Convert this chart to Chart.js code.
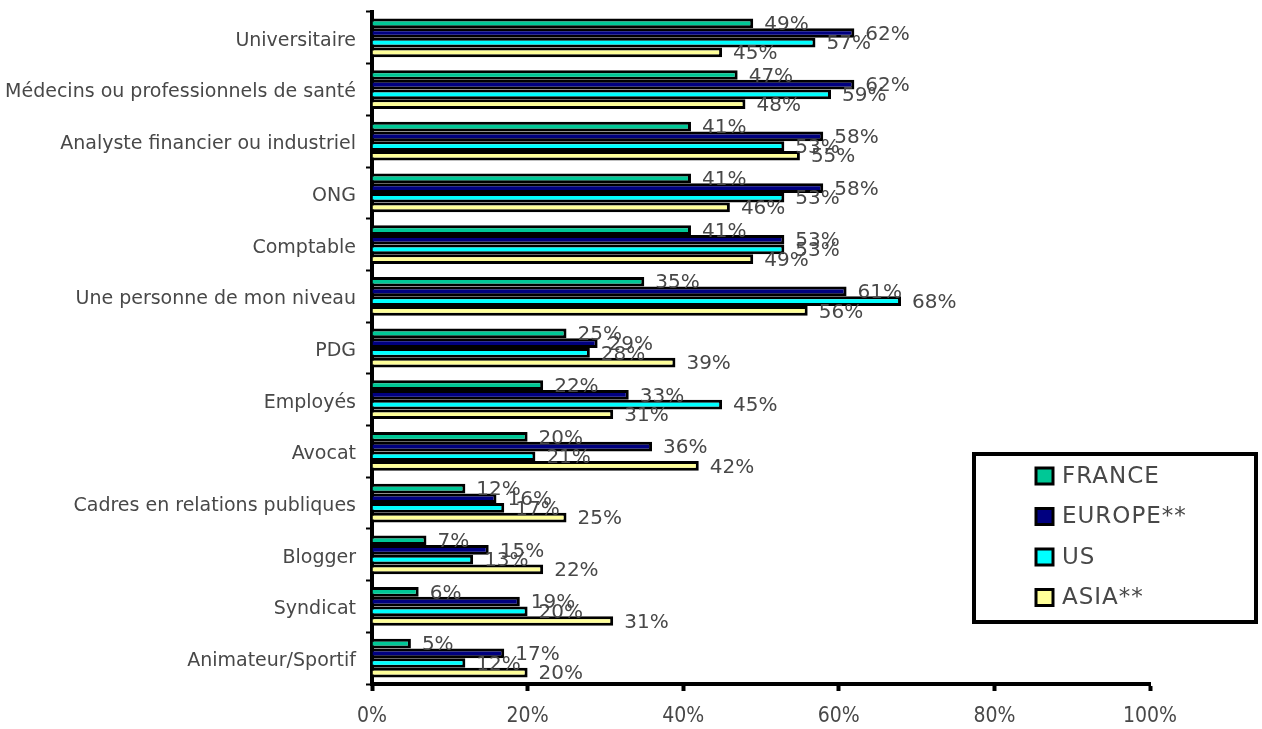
<!DOCTYPE html>
<html>
<head>
<meta charset="utf-8">
<script src="https://cdn.jsdelivr.net/npm/chart.js@4"></script>
<style>
  body { margin: 0; background: #fff; }
  #wrap { width: 1262px; height: 729px; position: relative; }
</style>
</head>
<body>
<div id="wrap"><canvas id="chart1"></canvas></div>
<script>
const categories = [
    'Universitaire',
    'Médecins ou professionnels de santé',
    'Analyste financier ou industriel',
    'ONG',
    'Comptable',
    'Une personne de mon niveau',
    'PDG',
    'Employés',
    'Avocat',
    'Cadres en relations publiques',
    'Blogger',
    'Syndicat',
    'Animateur/Sportif'
];
const franceValues = [49, 47, 41, 41, 41, 35, 25, 22, 20, 12, 7, 6, 5];
const europeValues = [62, 62, 58, 58, 53, 61, 29, 33, 36, 16, 15, 19, 17];
const usValues     = [57, 59, 53, 53, 53, 68, 28, 45, 21, 17, 13, 20, 12];
const asiaValues   = [45, 48, 55, 46, 49, 56, 39, 31, 42, 25, 22, 31, 20];
const seriesNames  = ['FRANCE', 'EUROPE**', 'US', 'ASIA**'];
const xTicks = [0, 20, 40, 60, 80, 100];

const colors = ['#00C896', '#000080', '#00FFFF', '#FFFF99'];
const textColor = '#484848';

// value labels to the right of every bar
const valueLabels = {
    id: 'valueLabels',
    afterDatasetsDraw(chart) {
        const ctx = chart.ctx;
        ctx.save();
        ctx.font = '20px "DejaVu Sans"';
        ctx.fillStyle = textColor;
        ctx.textAlign = 'left';
        ctx.textBaseline = 'middle';
        chart.data.datasets.forEach((ds, i) => {
            chart.getDatasetMeta(i).data.forEach((bar, j) => {
                ctx.fillText(ds.data[j] + '%', bar.x + 11, bar.y + 1.5);
            });
        });
        ctx.restore();
    }
};

// boxed legend inside the plot area
const boxLegend = {
    id: 'boxLegend',
    afterDraw(chart) {
        const ctx = chart.ctx;
        ctx.save();
        ctx.lineWidth = 4;
        ctx.strokeStyle = '#000';
        ctx.strokeRect(974, 454, 282, 168);
        ctx.font = '23px "DejaVu Sans"';
        ctx.textBaseline = 'middle';
        ctx.letterSpacing = '1px';
        seriesNames.forEach((name, i) => {
            const y = 476 + i * 40.5;
            ctx.fillStyle = colors[i];
            ctx.fillRect(1036, y - 8, 17, 16);
            ctx.lineWidth = 3;
            ctx.strokeRect(1036, y - 8, 17, 16);
            ctx.fillStyle = textColor;
            ctx.fillText(name, 1062, y + 1);
        });
        ctx.restore();
    }
};

const ctx1 = document.getElementById('chart1').getContext('2d');
const myChart1 = new Chart(ctx1, {
    type: 'bar',
    data: {
        labels: categories,
        datasets: [franceValues, europeValues, usValues, asiaValues].map((vals, i) => ({
            label: seriesNames[i],
            data: vals,
            backgroundColor: colors[i],
            borderColor: '#000',
            borderWidth: 3,
            barPercentage: 1.0,
            categoryPercentage: 0.75
        }))
    },
    options: {
        indexAxis: 'y',
        responsive: true,
        maintainAspectRatio: false,
        animation: false,
        layout: { padding: { top: 12, right: 112, left: 0, bottom: 0 } },
        plugins: {
            legend: { display: false },
            tooltip: { enabled: false }
        },
        scales: {
            x: {
                min: 0,
                max: 100,
                afterFit: scale => { scale.height = 45; },
                afterBuildTicks: scale => { scale.ticks = xTicks.map(v => ({ value: v })); },
                ticks: {
                    callback: v => v + '%',
                    font: { family: '"DejaVu Sans Condensed", "Liberation Sans Narrow", "DejaVu Sans"', size: 21 },
                    color: textColor,
                    padding: 13,
                    maxRotation: 0
                },
                grid: { drawOnChartArea: false, tickLength: 7, tickWidth: 4, color: '#000' },
                border: { display: true, width: 4, color: '#000' }
            },
            y: {
                afterFit: scale => {
                    scale.width = 372;
                    scale.paddingTop = 0;
                    scale.paddingBottom = 0;
                },
                ticks: {
                    font: { family: '"DejaVu Sans"', size: 19 },
                    color: textColor,
                    padding: 10,
                    labelOffset: 3
                },
                grid: { drawOnChartArea: false, offset: true, tickLength: 6, tickWidth: 2, color: '#000' },
                border: { display: true, width: 4, color: '#000' }
            }
        }
    },
    plugins: [valueLabels, boxLegend]
});
</script>
</body>
</html>
